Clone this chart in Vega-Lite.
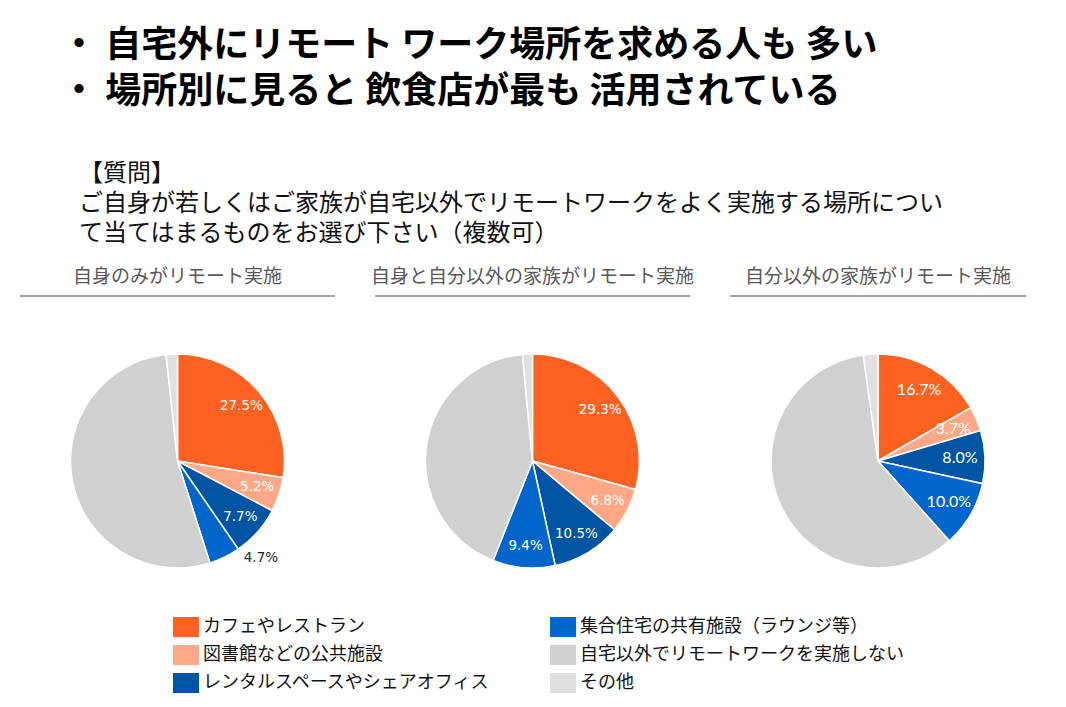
{
  "$schema": "https://vega.github.io/schema/vega-lite/v6.json",
  "background": "white",
  "padding": {"top": 28, "left": 19, "right": 20, "bottom": 10},
  "datasets": {
    "d": [
      {"group": "自身のみがリモート実施", "no": 1, "category": "カフェやレストラン", "value": 0.275},
      {"group": "自身のみがリモート実施", "no": 2, "category": "図書館などの公共施設", "value": 0.052},
      {"group": "自身のみがリモート実施", "no": 3, "category": "レンタルスペースやシェアオフィス", "value": 0.077},
      {"group": "自身のみがリモート実施", "no": 4, "category": "集合住宅の共有施設（ラウンジ等）", "value": 0.047},
      {"group": "自身のみがリモート実施", "no": 5, "category": "自宅以外でリモートワークを実施しない", "value": 0.532},
      {"group": "自身のみがリモート実施", "no": 6, "category": "その他", "value": 0.017},
      {"group": "自身と自分以外の家族がリモート実施", "no": 1, "category": "カフェやレストラン", "value": 0.293},
      {"group": "自身と自分以外の家族がリモート実施", "no": 2, "category": "図書館などの公共施設", "value": 0.068},
      {"group": "自身と自分以外の家族がリモート実施", "no": 3, "category": "レンタルスペースやシェアオフィス", "value": 0.105},
      {"group": "自身と自分以外の家族がリモート実施", "no": 4, "category": "集合住宅の共有施設（ラウンジ等）", "value": 0.094},
      {"group": "自身と自分以外の家族がリモート実施", "no": 5, "category": "自宅以外でリモートワークを実施しない", "value": 0.425},
      {"group": "自身と自分以外の家族がリモート実施", "no": 6, "category": "その他", "value": 0.015},
      {"group": "自分以外の家族がリモート実施", "no": 1, "category": "カフェやレストラン", "value": 0.167},
      {"group": "自分以外の家族がリモート実施", "no": 2, "category": "図書館などの公共施設", "value": 0.037},
      {"group": "自分以外の家族がリモート実施", "no": 3, "category": "レンタルスペースやシェアオフィス", "value": 0.080},
      {"group": "自分以外の家族がリモート実施", "no": 4, "category": "集合住宅の共有施設（ラウンジ等）", "value": 0.100},
      {"group": "自分以外の家族がリモート実施", "no": 5, "category": "自宅以外でリモートワークを実施しない", "value": 0.594},
      {"group": "自分以外の家族がリモート実施", "no": 6, "category": "その他", "value": 0.022}
    ]
  },
  "title": {
    "text": ["・ 自宅外にリモート ワーク場所を求める人も 多い", "・ 場所別に見ると 飲食店が最も 活用されている"],
    "anchor": "start",
    "dx": 42,
    "font": "Noto Sans CJK JP",
    "fontSize": 36,
    "fontWeight": "bold",
    "color": "#000000",
    "lineHeight": 46,
    "offset": 51
  },
  "vconcat": [
    {
      "title": {
        "text": ["【質問】", "ご自身が若しくはご家族が自宅以外でリモートワークをよく実施する場所につい", "て当てはまるものをお選び下さい（複数可）"],
        "anchor": "start",
        "dx": 60,
        "font": "Noto Sans CJK JP",
        "fontSize": 24,
        "fontWeight": "normal",
        "color": "#111111",
        "lineHeight": 30,
        "offset": 22
      },
      "spacing": 40,
      "bounds": "flush",
      "hconcat": [
        {
          "title": {"text": "自身のみがリモート実施", "font": "Noto Sans CJK JP", "fontSize": 19, "fontWeight": "normal", "color": "#595959", "anchor": "middle", "offset": 8},
          "width": 315,
          "height": 330,
          "data": {"name": "d"},
          "transform": [{"filter": "datum.group == '自身のみがリモート実施'"}],
          "layer": [
            {
              "mark": {"type": "rule", "color": "#A6A6A6", "strokeWidth": 2},
              "encoding": {"y": {"aggregate": "count", "type": "quantitative", "scale": {"domain": [0, 6]}, "axis": null}}
            },
            {
              "mark": {"type": "arc", "outerRadius": 107, "stroke": "white", "strokeWidth": 1.5},
              "encoding": {
                "theta": {"field": "value", "type": "quantitative", "stack": true},
                "order": {"field": "no", "type": "quantitative"},
                "color": {
                  "field": "category",
                  "type": "nominal",
                  "scale": {
                    "domain": ["カフェやレストラン", "図書館などの公共施設", "レンタルスペースやシェアオフィス", "集合住宅の共有施設（ラウンジ等）", "自宅以外でリモートワークを実施しない", "その他"],
                    "range": ["#FF6120", "#FFA888", "#0054A4", "#0066CC", "#D0D0D0", "#E0E0E0"]
                  },
                  "legend": {"orient": "none", "legendX": 156, "legendY": 321, "columns": 2, "title": null}
                }
              }
            },
            {
              "mark": {"type": "text", "radius": 84, "font": "DejaVu Sans", "fontSize": 13.5},
              "encoding": {
                "theta": {"field": "value", "type": "quantitative", "stack": true},
                "order": {"field": "no", "type": "quantitative"},
                "color": {"value": "white"},
                "text": {"condition": {"test": "datum.no <= 3", "field": "value", "type": "quantitative", "format": ".1%"}, "value": ""}
              }
            },
            {
              "mark": {"type": "text", "radius": 112, "font": "DejaVu Sans", "fontSize": 13.5, "align": "left", "dx": 17, "dy": -4},
              "encoding": {
                "theta": {"field": "value", "type": "quantitative", "stack": true},
                "order": {"field": "no", "type": "quantitative"},
                "color": {"value": "#222222"},
                "text": {"condition": {"test": "datum.no == 4", "field": "value", "type": "quantitative", "format": ".1%"}, "value": ""}
              }
            }
          ]
        },
        {
          "title": {"text": "自身と自分以外の家族がリモート実施", "font": "Noto Sans CJK JP", "fontSize": 19, "fontWeight": "normal", "color": "#595959", "anchor": "middle", "offset": 8},
          "width": 315,
          "height": 330,
          "data": {"name": "d"},
          "transform": [{"filter": "datum.group == '自身と自分以外の家族がリモート実施'"}],
          "layer": [
            {
              "mark": {"type": "rule", "color": "#A6A6A6", "strokeWidth": 2},
              "encoding": {"y": {"aggregate": "count", "type": "quantitative", "scale": {"domain": [0, 6]}, "axis": null}}
            },
            {
              "mark": {"type": "arc", "outerRadius": 107, "stroke": "white", "strokeWidth": 1.5},
              "encoding": {
                "theta": {"field": "value", "type": "quantitative", "stack": true},
                "order": {"field": "no", "type": "quantitative"},
                "color": {
                  "field": "category",
                  "type": "nominal",
                  "scale": {
                    "domain": ["カフェやレストラン", "図書館などの公共施設", "レンタルスペースやシェアオフィス", "集合住宅の共有施設（ラウンジ等）", "自宅以外でリモートワークを実施しない", "その他"],
                    "range": ["#FF6120", "#FFA888", "#0054A4", "#0066CC", "#D0D0D0", "#E0E0E0"]
                  },
                  "legend": {"orient": "none", "legendX": 156, "legendY": 321, "columns": 2, "title": null}
                }
              }
            },
            {
              "mark": {"type": "text", "radius": 85, "font": "DejaVu Sans", "fontSize": 13.5},
              "encoding": {
                "theta": {"field": "value", "type": "quantitative", "stack": true},
                "order": {"field": "no", "type": "quantitative"},
                "color": {"value": "white"},
                "text": {"condition": {"test": "datum.no <= 4", "field": "value", "type": "quantitative", "format": ".1%"}, "value": ""}
              }
            }
          ]
        },
        {
          "title": {"text": "自分以外の家族がリモート実施", "font": "Noto Sans CJK JP", "fontSize": 19, "fontWeight": "normal", "color": "#595959", "anchor": "middle", "offset": 8},
          "width": 296,
          "height": 330,
          "data": {"name": "d"},
          "transform": [{"filter": "datum.group == '自分以外の家族がリモート実施'"}],
          "layer": [
            {
              "mark": {"type": "rule", "color": "#A6A6A6", "strokeWidth": 2},
              "encoding": {"y": {"aggregate": "count", "type": "quantitative", "scale": {"domain": [0, 6]}, "axis": null}}
            },
            {
              "mark": {"type": "arc", "outerRadius": 107, "stroke": "white", "strokeWidth": 1.5},
              "encoding": {
                "theta": {"field": "value", "type": "quantitative", "stack": true},
                "order": {"field": "no", "type": "quantitative"},
                "color": {
                  "field": "category",
                  "type": "nominal",
                  "scale": {
                    "domain": ["カフェやレストラン", "図書館などの公共施設", "レンタルスペースやシェアオフィス", "集合住宅の共有施設（ラウンジ等）", "自宅以外でリモートワークを実施しない", "その他"],
                    "range": ["#FF6120", "#FFA888", "#0054A4", "#0066CC", "#D0D0D0", "#E0E0E0"]
                  },
                  "legend": {"orient": "none", "legendX": 156, "legendY": 321, "columns": 2, "title": null}
                }
              }
            },
            {
              "mark": {"type": "text", "radius": 82, "font": "Lato", "fontSize": 16},
              "encoding": {
                "theta": {"field": "value", "type": "quantitative", "stack": true},
                "order": {"field": "no", "type": "quantitative"},
                "color": {"value": "white"},
                "text": {"condition": {"test": "datum.no <= 4", "field": "value", "type": "quantitative", "format": ".1%"}, "value": ""}
              }
            }
          ]
        }
      ]
    }
  ],
  "config": {
    "view": {"stroke": null},
    "legend": {
      "symbolType": "M-1.3,-1H1.3V1H-1.3Z",
      "symbolSize": 400,
      "symbolStrokeWidth": 0,
      "symbolOpacity": 1,
      "labelFont": "Noto Sans CJK JP",
      "labelFontSize": 18,
      "labelColor": "#111111",
      "labelOffset": 7,
      "labelLimit": 400,
      "rowPadding": 8,
      "columnPadding": 59,
      "padding": 0
    }
  }
}
